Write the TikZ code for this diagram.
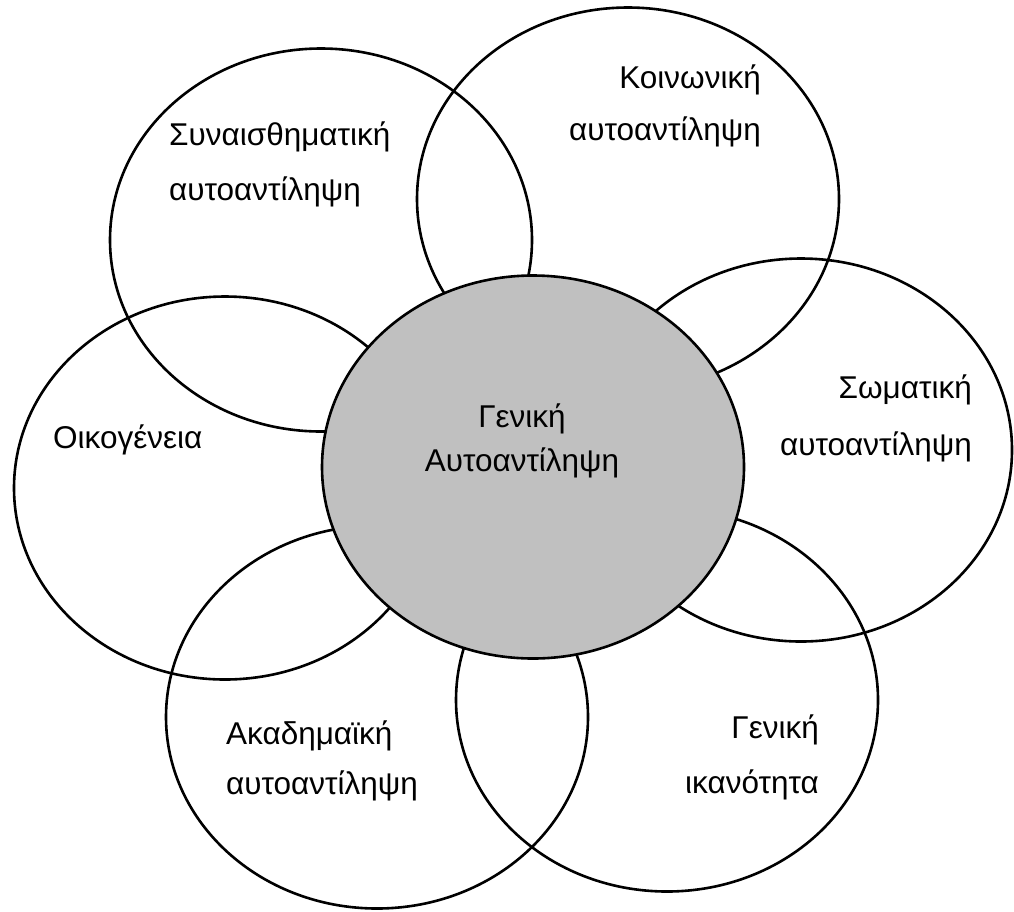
\documentclass[tikz,border=0pt]{standalone}
\usepackage{fontspec}
\setmainfont{Liberation Sans}
\usetikzlibrary{shapes.geometric}
\definecolor{centergray}{RGB}{192,192,192}
\tikzset{
  petal/.style={ellipse, draw=black, line width=2.6pt, minimum width=422pt, minimum height=383pt, inner sep=0pt},
  hub/.style={petal, fill=centergray},
  lbl/.style={inner sep=0pt, font=\fontsize{31.5}{38}\selectfont},
}
\begin{document}
\begin{tikzpicture}[x=1pt, y=-1pt]
\useasboundingbox (0,0) rectangle (1014,911);
% outer ellipses
\node[petal] (emo) at (321,240) {};
\node[petal] (soc) at (628,199) {};
\node[petal] (phy) at (801,450) {};
\node[petal] (fam) at (225,488) {};
\node[petal] (aca) at (377,717) {};
\node[petal] (gen) at (667,700) {};
% centre
\node[hub] (self) at (533,467) {};
% labels
\node[lbl, anchor=base west] (emo1) at (169,145) {Συναισθηματική};
\node[lbl, anchor=base west] (emo2) at (169,200) {αυτοαντίληψη};
\node[lbl, anchor=base east] (soc1) at (761,88) {Κοινωνική};
\node[lbl, anchor=base east] (soc2) at (761,140) {αυτοαντίληψη};
\node[lbl, anchor=base east] (phy1) at (972,398) {Σωματική};
\node[lbl, anchor=base east] (phy2) at (972,455) {αυτοαντίληψη};
\node[lbl, anchor=base west] (fam1) at (53,448) {Οικογένεια};
\node[lbl, anchor=base] (self1) at (522,427) {Γενική};
\node[lbl, anchor=base] (self2) at (522,471) {Αυτοαντίληψη};
\node[lbl, anchor=base west] (aca1) at (226,744) {Ακαδημαϊκή};
\node[lbl, anchor=base west] (aca2) at (226,794) {αυτοαντίληψη};
\node[lbl, anchor=base east] (gen1) at (819,738) {Γενική};
\node[lbl, anchor=base east] (gen2) at (819,793) {ικανότητα};
\end{tikzpicture}
\end{document}
